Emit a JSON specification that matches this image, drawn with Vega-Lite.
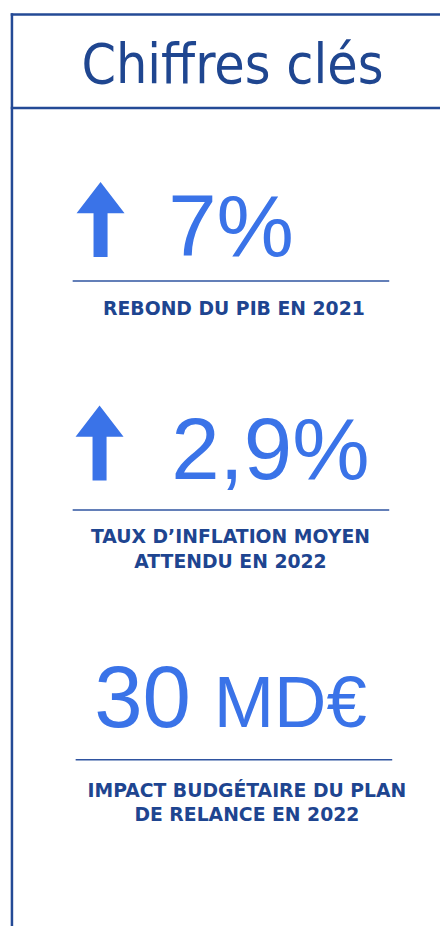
{
  "$schema": "https://vega.github.io/schema/vega-lite/v6.json",
  "width": 442,
  "height": 928,
  "padding": 0,
  "autosize": {"type": "fit", "contains": "padding"},
  "background": "white",
  "config": {"view": {"stroke": null}},
  "encoding": {
    "x": {"field": "x", "type": "quantitative", "scale": {"domain": [0, 442], "nice": false, "zero": false}, "axis": null},
    "y": {"field": "y", "type": "quantitative", "scale": {"domain": [0, 928], "nice": false, "zero": false, "reverse": true}, "axis": null}
  },
  "layer": [
    {
      "data": {"values": [
        {"part": "top", "x": 10.8, "x2": 442, "y": 14.5, "y2": 14.5},
        {"part": "left", "x": 12, "x2": 12, "y": 13.3, "y2": 930},
        {"part": "header", "x": 10.8, "x2": 442, "y": 108.5, "y2": 108.5}
      ]},
      "mark": {"type": "rule", "stroke": "#244a96", "strokeWidth": 2.5},
      "encoding": {"x2": {"field": "x2"}, "y2": {"field": "y2"}}
    },
    {
      "data": {"values": [
        {"part": "sep1", "x": 73, "x2": 391, "y": 282.3, "y2": 282.3},
        {"part": "sep2", "x": 73, "x2": 391, "y": 512.3, "y2": 512.3},
        {"part": "sep3", "x": 76, "x2": 394, "y": 763, "y2": 763}
      ]},
      "mark": {"type": "rule", "stroke": "#2f54a0", "strokeWidth": 1.5},
      "encoding": {"x2": {"field": "x2"}, "y2": {"field": "y2"}}
    },
    {
      "data": {"values": [
        {"item": "PIB", "x": 101, "y": 220.5},
        {"item": "inflation", "x": 100, "y": 445}
      ]},
      "mark": {"type": "point", "filled": true, "opacity": 1, "fill": "#3a73e8", "strokeWidth": 0, "size": 5625,
        "shape": "M0,-1 L0.64,-0.17 L0.187,-0.17 L0.187,1 L-0.187,1 L-0.187,-0.17 L-0.64,-0.17 Z"}
    },
    {
      "data": {"values": [{"text": "Chiffres clés", "x": 233.5, "y": 83}]},
      "mark": {"type": "text", "font": "Liberation Sans Narrow, DejaVu Sans Condensed, Liberation Sans, sans-serif", "fontSize": 55, "align": "center", "baseline": "alphabetic", "fill": "#1f4690"},
      "encoding": {"text": {"field": "text"}}
    },
    {
      "data": {"values": [
        {"text": "7%", "x": 169, "y": 257},
        {"text": "2,9%", "x": 172, "y": 481},
        {"text": "30", "x": 94.6, "y": 730}
      ]},
      "mark": {"type": "text", "font": "Liberation Sans", "fontSize": 87, "align": "left", "baseline": "alphabetic", "fill": "#3a73e8"},
      "encoding": {"text": {"field": "text"}}
    },
    {
      "data": {"values": [{"text": "MD€", "x": 214.6, "y": 730}]},
      "mark": {"type": "text", "font": "Liberation Sans", "fontSize": 72.5, "align": "left", "baseline": "alphabetic", "fill": "#3a73e8"},
      "encoding": {"text": {"field": "text"}}
    },
    {
      "data": {"values": [
        {"text": "REBOND DU PIB EN 2021", "x": 235, "y": 316.5},
        {"text": "TAUX D’INFLATION MOYEN", "x": 231.5, "y": 545.5},
        {"text": "ATTENDU EN 2022", "x": 231.5, "y": 570},
        {"text": "IMPACT BUDGÉTAIRE DU PLAN", "x": 248, "y": 800.7},
        {"text": "DE RELANCE EN 2022", "x": 248, "y": 825}
      ]},
      "mark": {"type": "text", "font": "DejaVu Sans", "fontWeight": "bold", "fontSize": 18.8, "align": "center", "baseline": "alphabetic", "fill": "#1e4590"},
      "encoding": {"text": {"field": "text"}}
    }
  ]
}
